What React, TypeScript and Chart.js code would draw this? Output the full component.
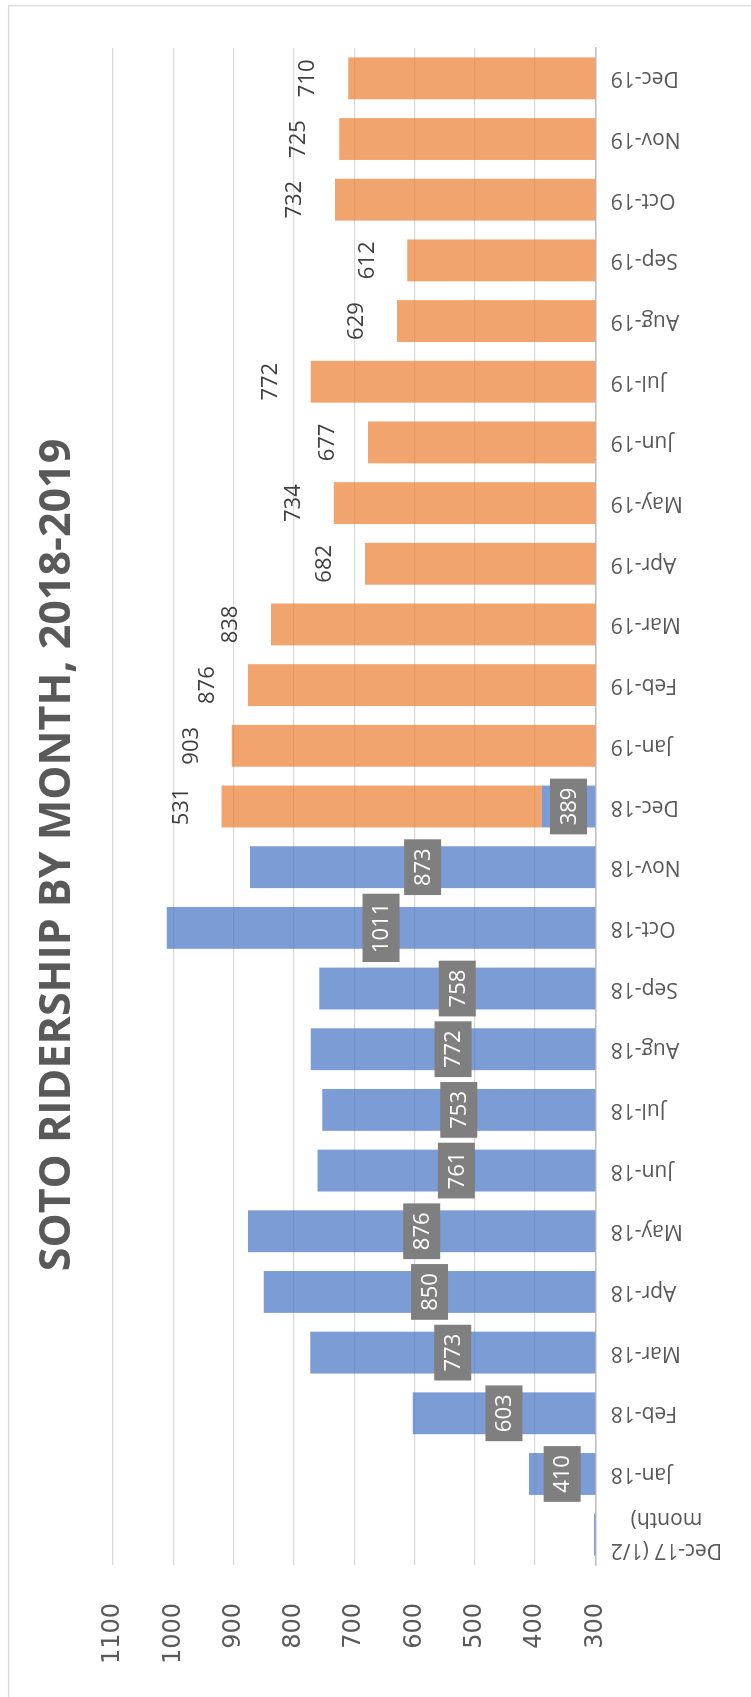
import React, { useEffect, useRef } from 'react';
import { Chart, registerables } from 'chart.js';

Chart.register(...registerables);

// ---- data ----
const categories: (string | string[])[] = [
  ['Dec-17 (1/2', 'month)'],
  'Jan-18', 'Feb-18', 'Mar-18', 'Apr-18', 'May-18', 'Jun-18',
  'Jul-18', 'Aug-18', 'Sep-18', 'Oct-18', 'Nov-18', 'Dec-18',
  'Jan-19', 'Feb-19', 'Mar-19', 'Apr-19', 'May-19', 'Jun-19',
  'Jul-19', 'Aug-19', 'Sep-19', 'Oct-19', 'Nov-19', 'Dec-19',
];

const riders2018: (number | null)[] = [
  302, 410, 603, 773, 850, 876, 761, 753, 772, 758, 1011, 873, 389,
  null, null, null, null, null, null, null, null, null, null, null, null,
];

const riders2019: (number | null)[] = [
  null, null, null, null, null, null, null, null, null, null, null, null,
  531, 903, 876, 838, 682, 734, 677, 772, 629, 612, 732, 725, 710,
];

const titleText = 'SOTO RIDERSHIP BY MONTH, 2018-2019';
const valueMin = 300;
const valueMax = 1100;
const valueStep = 100;

// ---- plugins ----
const framePlugin = {
  id: 'frame',
  beforeDraw(chart: any) {
    const ctx = chart.ctx;
    ctx.save();
    ctx.fillStyle = '#ffffff';
    ctx.fillRect(0, 0, chart.width, chart.height);
    ctx.strokeStyle = '#d9d9d9';
    ctx.lineWidth = 1.3;
    ctx.strokeRect(-20, 8.6, chart.width - 5.7 + 20, chart.height + 40);
    ctx.restore();
  },
};

const valueLabelPlugin = {
  id: 'valueLabels',
  afterDatasetsDraw(chart: any) {
    const ctx = chart.ctx;
    const area = chart.chartArea;
    ctx.save();
    ctx.font = '22px "Open Sans"';
    ctx.textAlign = 'center';
    ctx.textBaseline = 'middle';

    const m0 = chart.getDatasetMeta(0);
    m0.data.forEach((el: any, i: number) => {
      const v = riders2018[i];
      if (v == null) return;
      const top = el.y;
      const base = Math.min(el.base, area.bottom);
      if (base - top < 20) return; // too small to hold a label
      const cy = (top + base) / 2;
      const text = String(v);
      const w = ctx.measureText(text).width + 18;
      const h = 37;
      ctx.fillStyle = '#7f7f7f';
      ctx.fillRect(el.x - w / 2, cy - h / 2, w, h);
      ctx.fillStyle = '#ffffff';
      ctx.fillText(text, el.x, cy + 1);
    });

    const m1 = chart.getDatasetMeta(1);
    ctx.fillStyle = '#404040';
    m1.data.forEach((el: any, i: number) => {
      const v = riders2019[i];
      if (v == null) return;
      ctx.fillText(String(v), el.x, el.y - 40);
    });
    ctx.restore();
  },
};

const categoryLabelPlugin = {
  id: 'categoryLabels',
  afterDraw(chart: any) {
    const ctx = chart.ctx;
    const area = chart.chartArea;
    const xs = chart.scales.x;
    ctx.save();
    ctx.font = '21px "Open Sans"';
    ctx.fillStyle = '#595959';
    ctx.textAlign = 'center';
    ctx.textBaseline = 'middle';
    const lh = 31;
    categories.forEach((lab, i) => {
      const lines = Array.isArray(lab) ? lab : [lab];
      const px = xs.getPixelForTick(i);
      const maxW = Math.max(...lines.map((l) => ctx.measureText(l).width));
      ctx.save();
      ctx.translate(px, area.bottom + 15.5 + maxW / 2);
      ctx.rotate(-Math.PI / 2);
      lines.forEach((l, j) => {
        ctx.fillText(l, 0, (j - (lines.length - 1) / 2) * lh);
      });
      ctx.restore();
    });
    ctx.restore();
  },
};

export default function App() {
  const canvasRef = useRef<HTMLCanvasElement | null>(null);

  useEffect(() => {
    let chart: Chart | null = null;
    let cancelled = false;
    const build = () => {
      if (cancelled || !canvasRef.current) return;
      chart = new Chart(canvasRef.current, {
        type: 'bar',
        data: {
          labels: categories as any,
          datasets: [
            {
              label: '2018',
              data: riders2018,
              backgroundColor: 'rgba(68,114,196,0.7)',
              borderWidth: 0,
              barPercentage: 0.69,
              categoryPercentage: 1,
            },
            {
              label: '2019',
              data: riders2019,
              backgroundColor: 'rgba(237,125,49,0.7)',
              borderWidth: 0,
              barPercentage: 0.69,
              categoryPercentage: 1,
            },
          ],
        },
        options: {
          responsive: false,
          animation: false,
          devicePixelRatio: 1,
          layout: { padding: { left: 35, right: 48, top: 0, bottom: 0 } },
          plugins: {
            legend: { display: false },
            tooltip: { enabled: false },
            title: {
              display: true,
              text: titleText,
              color: '#595959',
              font: { family: '"Open Sans"', size: 43, weight: 'bold' },
              padding: { top: 31.5, bottom: 30 },
            },
          },
          scales: {
            x: {
              stacked: true,
              grid: { display: false, drawTicks: false },
              border: { display: true, color: '#bfbfbf', width: 1.5 },
              ticks: { display: false },
              afterFit: (scale: any) => {
                scale.height = 155.7;
              },
            },
            y: {
              stacked: true,
              min: valueMin,
              max: valueMax,
              grid: { color: '#d9d9d9', lineWidth: 1.3, drawTicks: false },
              border: { display: false },
              ticks: {
                stepSize: valueStep,
                padding: 38,
                color: '#595959',
                font: { family: '"DejaVu Sans"', size: 24 },
                callback: (v: any) => String(v),
              },
              afterFit: (scale: any) => {
                scale.width = 97;
              },
            },
          },
        },
        plugins: [framePlugin, valueLabelPlugin, categoryLabelPlugin],
      });
    };
    const fonts = (document as any).fonts;
    if (fonts && fonts.load) {
      Promise.all([
        fonts.load('22px "Open Sans"'),
        fonts.load('bold 43px "Open Sans"'),
        fonts.load('24px "DejaVu Sans"'),
      ]).then(build, build);
    } else {
      build();
    }
    return () => {
      cancelled = true;
      if (chart) chart.destroy();
    };
  }, []);

  return (
    <div
      style={{
        position: 'fixed',
        left: 0,
        top: 0,
        width: 751,
        height: 1697,
        overflow: 'hidden',
        background: '#ffffff',
      }}
    >
      <div
        style={{
          position: 'absolute',
          left: 0,
          top: 0,
          width: 1697,
          height: 751,
          transformOrigin: '0 0',
          transform: 'translateY(1697px) rotate(-90deg)',
        }}
      >
        <canvas
          ref={canvasRef}
          width={1697}
          height={751}
          style={{ width: 1697, height: 751, display: 'block' }}
        />
      </div>
    </div>
  );
}
